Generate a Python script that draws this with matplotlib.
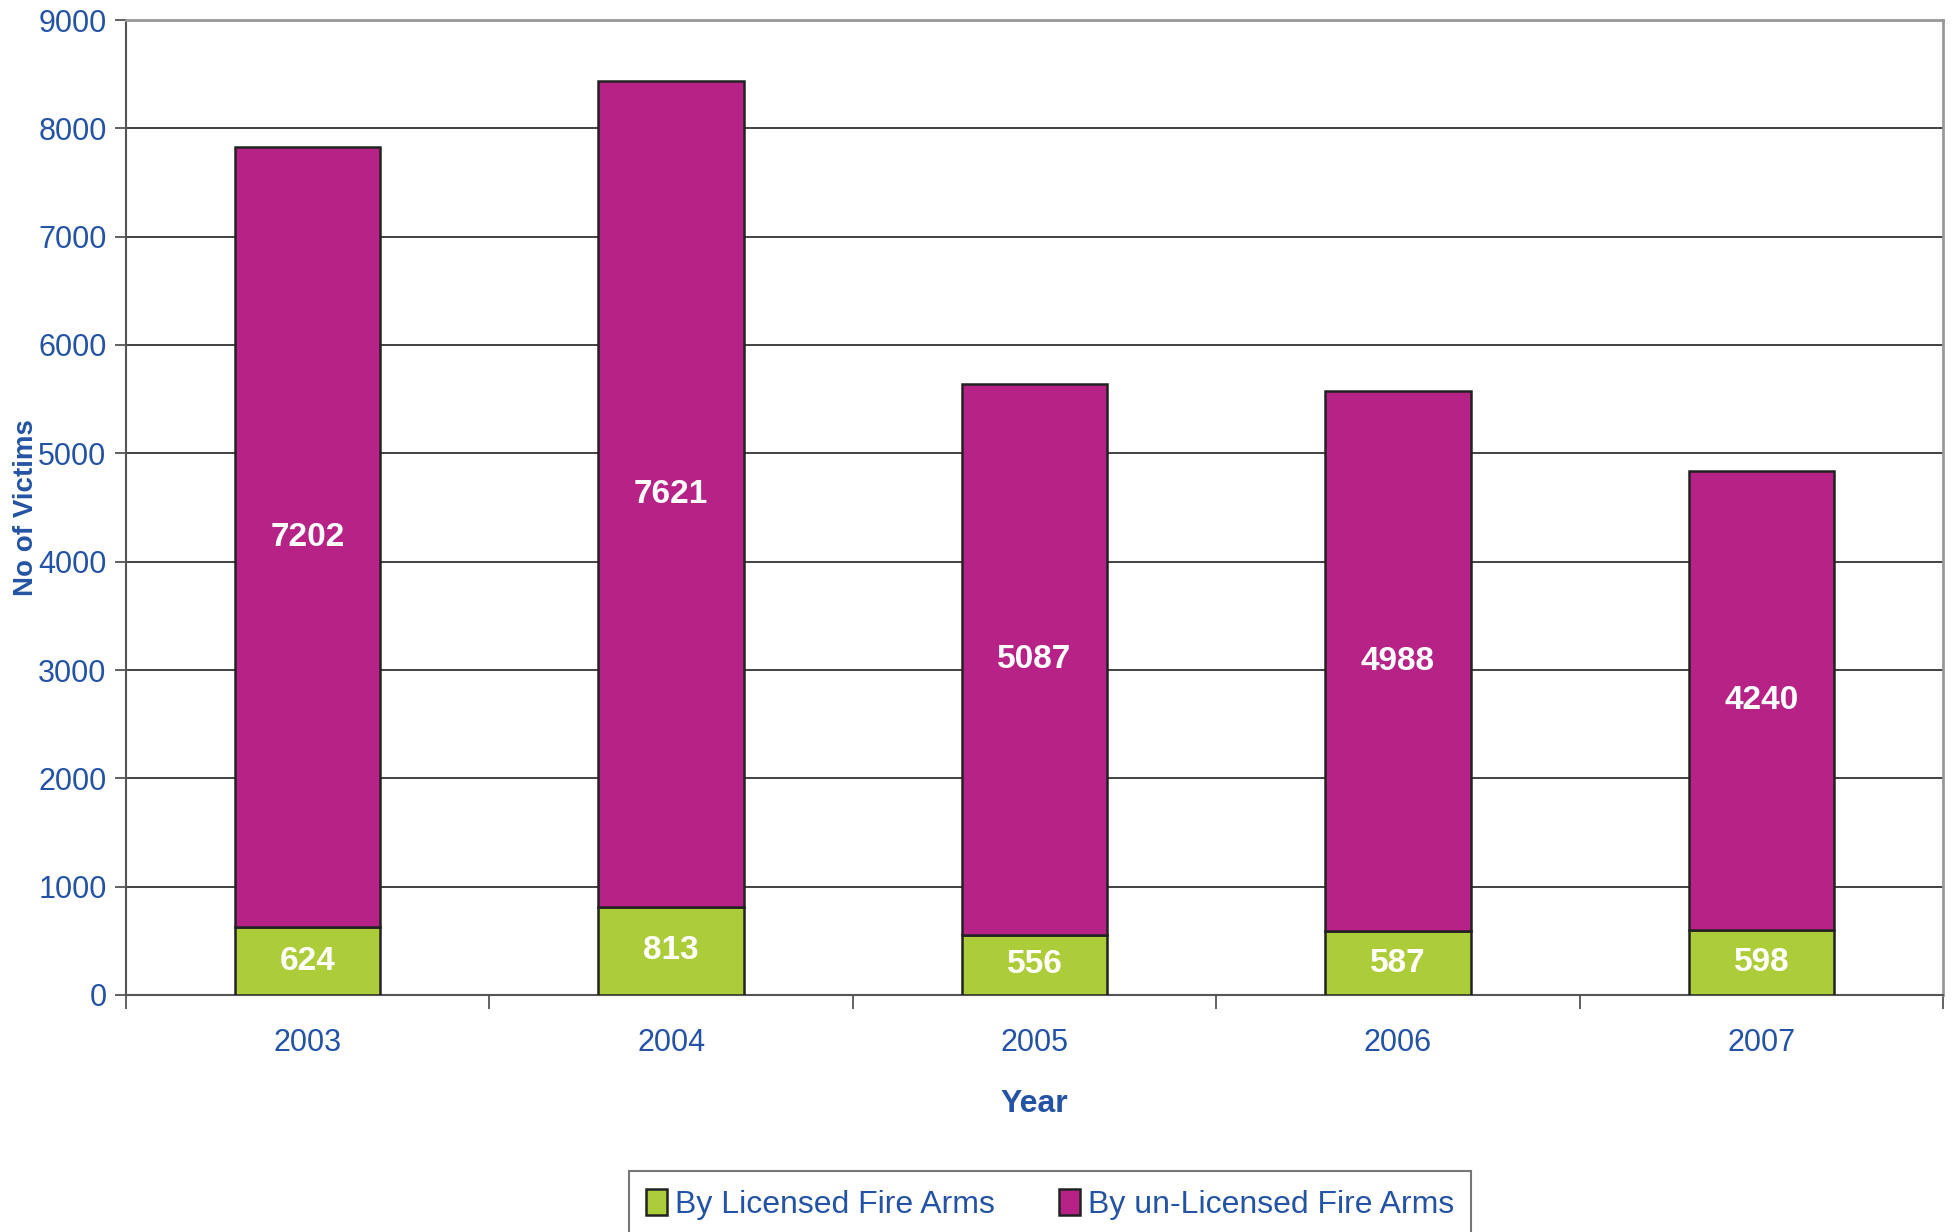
import matplotlib
matplotlib.use("Agg")
import matplotlib.pyplot as plt
import numpy as np

years = ["2003", "2004", "2005", "2006", "2007"]
licensed = [624, 813, 556, 587, 598]
unlicensed = [7202, 7621, 5087, 4988, 4240]

GREEN = "#ADCC3A"
MAGENTA = "#B62286"
BLUE = "#2453A5"

plt.rcParams["font.family"] = ["Liberation Sans", "DejaVu Sans"]

fig = plt.figure(figsize=(19.53, 12.32), dpi=100)
ax = fig.add_axes([126 / 1953, 1 - 995 / 1232, (1943 - 126) / 1953, (995 - 20) / 1232])

x = np.arange(len(years))
ax.bar(x, licensed, width=0.4, color=GREEN, edgecolor="#222222", linewidth=1.8, zorder=3)
ax.bar(x, unlicensed, width=0.4, bottom=licensed, color=MAGENTA, edgecolor="#222222",
       linewidth=1.8, zorder=3)

for i in range(len(years)):
    ax.text(x[i], licensed[i] / 2, str(licensed[i]), ha="center", va="center",
            color="white", fontsize=24, fontweight="bold", zorder=4)
    ax.text(x[i], licensed[i] + unlicensed[i] / 2, str(unlicensed[i]), ha="center",
            va="center", color="white", fontsize=24, fontweight="bold", zorder=4)

ax.set_xlim(-0.5, len(years) - 0.5)
ax.set_ylim(0, 9000)
ax.set_yticks(range(0, 9001, 1000))
ax.yaxis.grid(True, color="#333333", linewidth=1.3)
ax.set_axisbelow(True)

# category labels centred, ticks on the boundaries
ax.set_xticks(x)
ax.set_xticklabels(years)
ax.set_xticks(np.arange(-0.5, len(years)), minor=True)
ax.tick_params(axis="x", which="major", length=0, pad=24, labelsize=22, labelcolor=BLUE)
ax.tick_params(axis="x", which="minor", length=10, width=1.3, color="#555555")
ax.tick_params(axis="y", length=8, width=1.3, color="#555555", pad=6,
               labelsize=22, labelcolor=BLUE)

for side in ["top", "right"]:
    ax.spines[side].set_color("#999999")
    ax.spines[side].set_linewidth(2)
ax.spines["left"].set_color("#555555")
ax.spines["bottom"].set_color("#555555")
ax.spines["left"].set_linewidth(1.5)
ax.spines["bottom"].set_linewidth(1.5)

ax.set_xlabel("Year", fontsize=23, fontweight="bold", color=BLUE, labelpad=22)
ax.set_ylabel("No of Victims", fontsize=20, fontweight="bold", color=BLUE)
ax.yaxis.set_label_coords(-0.048, 0.5)

leg = fig.legend(["By Licensed Fire Arms", "By un-Licensed Fire Arms"],
                 loc="upper center", bbox_to_anchor=(1050 / 1953, 1 - 1171 / 1232),
                 ncol=2, frameon=True, fancybox=False, fontsize=23,
                 handlelength=0.65, handleheight=0.9, handletextpad=0.25,
                 columnspacing=2.0, borderpad=0.55, borderaxespad=0)
leg.get_frame().set_edgecolor("#555555")
leg.get_frame().set_linewidth(1.5)
for t in leg.get_texts():
    t.set_color(BLUE)

fig.savefig("out.png", dpi=100)
